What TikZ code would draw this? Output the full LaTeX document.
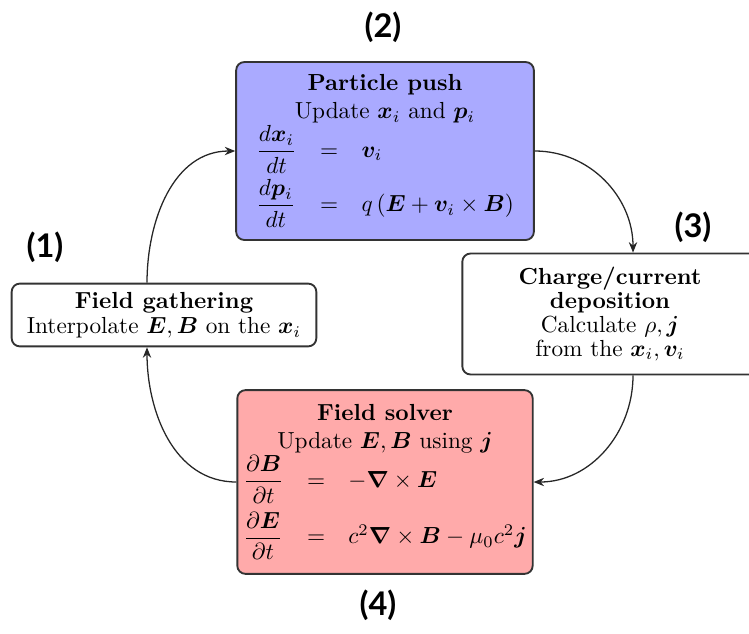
\documentclass[tikz,border=0pt]{standalone}
\usepackage{amsmath,bm}
\usepackage{fontspec}
\newfontfamily\numfont{Lato}
\usetikzlibrary{arrows.meta,calc}
\definecolor{pushblue}{RGB}{170,170,255}
\definecolor{solvered}{RGB}{255,170,170}
\begin{document}
\begin{tikzpicture}[x=0.43pt,y=-0.43pt,
  box/.style={draw=black!80, line width=0.8pt, rounded corners=3.5pt, align=center, inner xsep=2pt, inner ysep=2pt},
  num/.style={font=\numfont\bfseries\fontsize{14}{16}\selectfont},
  flow/.style={-{Stealth[length=4.5pt,width=3.6pt]}, line width=0.55pt, draw=black!85}]
\useasboundingbox (0,0) rectangle (749,633);
\clip (0,0) rectangle (749,633);

\node[box, fill=pushblue, minimum width=128pt, minimum height=76.5pt] (push) at (385,151) {%
\textbf{Particle push}\\
Update $\bm{x}_i$ and $\bm{p}_i$\\
$\begin{array}{@{}lcl@{}}
\dfrac{d\bm{x}_i}{dt} & = & \bm{v}_i\\[6pt]
\dfrac{d\bm{p}_i}{dt} & = & q\left(\bm{E}+\bm{v}_i\times\bm{B}\right)
\end{array}$};

\node[box, fill=solvered, minimum width=127pt, minimum height=79pt] (solve) at (385,482) {%
\textbf{Field solver}\\
Update $\bm{E},\bm{B}$ using $\bm{j}$\\
$\begin{array}{@{}lcl@{}}
\dfrac{\partial\bm{B}}{\partial t} & = & -\bm{\nabla}\times\bm{E}\\[7pt]
\dfrac{\partial\bm{E}}{\partial t} & = & c^2\bm{\nabla}\times\bm{B}-\mu_0c^2\bm{j}
\end{array}$};

\node[box, fill=white, minimum width=131pt, minimum height=27pt] (gather) at (164,315) {%
\textbf{Field gathering}\\[-1pt]
Interpolate $\bm{E},\bm{B}$ on the $\bm{x}_i$};

\node[box, fill=white, minimum width=127pt, minimum height=52pt] (depo) at (610,314) {%
\textbf{Charge/current}\\[-1.7pt]
\textbf{deposition}\\[-1.7pt]
Calculate $\rho,\bm{j}$\\[-1.7pt]
from the $\bm{x}_i,\bm{v}_i$};

\node[num] (n1) at (45,247) {(1)};
\node[num] (n2) at (383,27) {(2)};
\node[num] (n3) at (693,227) {(3)};
\node[num] (n4) at (378,605) {(4)};

\coordinate (gtop) at ($(gather.north)+(-17,0)$);
\coordinate (gbot) at ($(gather.south)+(-17,0)$);
\coordinate (dtop) at ($(depo.north)+(23,0)$);
\coordinate (dbot) at ($(depo.south)+(23,0)$);

\draw[flow] (gtop) to[out=90,in=180] (push.west);
\draw[flow] (push.east) to[out=0,in=90] (dtop);
\draw[flow] (dbot) to[out=-90,in=0] (solve.east);
\draw[flow] (solve.west) to[out=180,in=-90] (gbot);
\end{tikzpicture}
\end{document}
